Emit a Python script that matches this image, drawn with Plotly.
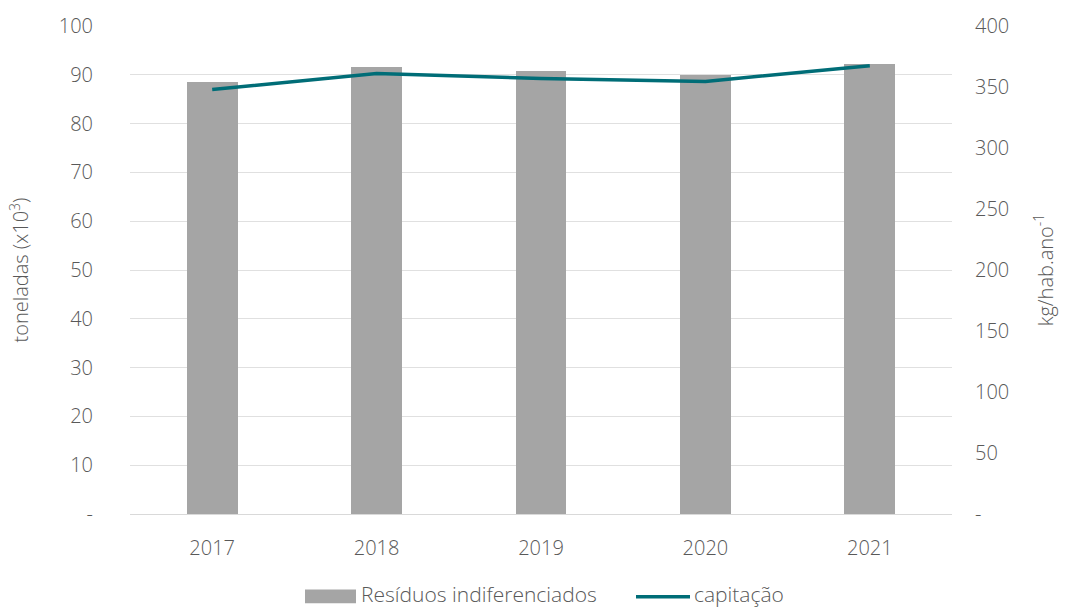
import plotly.graph_objects as go

anos = ["2017", "2018", "2019", "2020", "2021"]
residuos = [88.5, 91.6, 90.7, 90.0, 92.2]          # toneladas (x10^3)
capitacao = [348.0, 361.0, 357.0, 354.5, 367.5]    # kg/hab.ano^-1

left_ticks = list(range(0, 101, 10))
left_text = ["-"] + [str(v) for v in left_ticks[1:]]
right_ticks = list(range(0, 401, 50))
right_text = ["-"] + [str(v) for v in right_ticks[1:]]

BAR = "#a5a5a5"
LINE = "#006d77"
TXT = "#595959"
FONT = "Open Sans"
FS = 20

fig = go.Figure()
fig.add_trace(go.Bar(x=anos, y=residuos, name="Resíduos indiferenciados",
                     marker=dict(color=BAR, line=dict(width=0)), width=0.31,
                     showlegend=False))
fig.add_trace(go.Scatter(x=anos, y=capitacao, name="capitação", yaxis="y2",
                         mode="lines", line=dict(color=LINE, width=3.5),
                         showlegend=False))

W, H = 1075, 608
L, R, T, B = 130, 123, 22, 94
pw, ph = W - L - R, H - T - B


def px(xp):
    return (xp - L) / pw


def py(yp):
    return (H - B - yp) / ph


tfont = dict(family=FONT, size=FS, color=TXT, weight=300)
lfont = dict(family=FONT, size=21, color=TXT, weight=300)

# legend drawn below the plot
shapes = [
    dict(type="rect", xref="paper", yref="paper", x0=px(305), x1=px(356),
         y0=py(604), y1=py(590), fillcolor=BAR, line=dict(width=0)),
    dict(type="line", xref="paper", yref="paper", x0=px(636), x1=px(690),
         y0=py(597.5), y1=py(597.5), line=dict(color=LINE, width=3.5)),
]
annotations = [
    dict(text="Resíduos indiferenciados", xref="paper", yref="paper",
         x=px(359), y=py(595), xanchor="left", yanchor="middle", showarrow=False,
         font=lfont),
    dict(text="capitação", xref="paper", yref="paper",
         x=px(692), y=py(595), xanchor="left", yanchor="middle", showarrow=False,
         font=lfont),
]

fig.update_layout(
    width=W, height=H,
    margin=dict(l=L, r=R, t=T, b=B),
    plot_bgcolor="white", paper_bgcolor="white",
    font=tfont,
    xaxis=dict(showgrid=False, showline=True, linecolor="#d9d9d9", linewidth=1,
               ticks="", ticklabelstandoff=16, tickfont=tfont),
    yaxis=dict(range=[0, 100], tickvals=left_ticks, ticktext=left_text,
               showgrid=True, gridcolor="#e0e0e0", gridwidth=1, zeroline=False,
               showline=False, ticks="", ticklabelstandoff=36,
               tickfont=tfont,
               title=dict(text="toneladas (x10<sup>3</sup>)", standoff=24,
                          font=tfont)),
    yaxis2=dict(range=[0, 400], tickvals=right_ticks, ticktext=right_text,
                overlaying="y", side="right", showgrid=False, zeroline=False,
                showline=False, ticks="", ticklabelstandoff=22,
                tickfont=tfont,
                title=dict(text="kg/hab.ano<sup>-1</sup>", standoff=30,
                           font=tfont)),
    shapes=shapes, annotations=annotations,
    bargap=0,
)

fig.write_html("out.html")
